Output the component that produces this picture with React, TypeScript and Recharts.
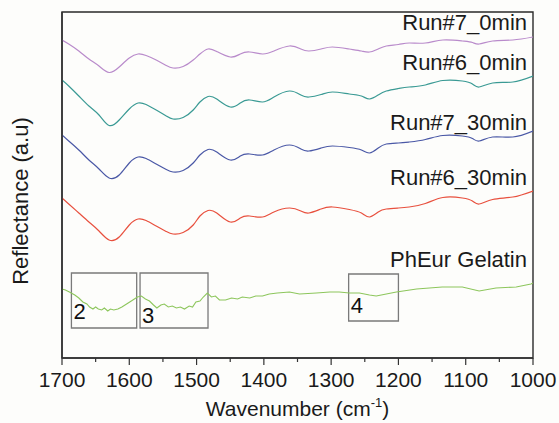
import React from "react";
import { LineChart, Line, XAxis, YAxis, ReferenceArea, ReferenceDot } from "recharts";

// Wavenumber grid (cm^-1)
const wavenumbers = [1700, 1690, 1675, 1660, 1645, 1630, 1615, 1600, 1587, 1575, 1560, 1545, 1535, 1520, 1505, 1495, 1483, 1470, 1450, 1435, 1421, 1402, 1385, 1362, 1345, 1333, 1315, 1298, 1273, 1255, 1243, 1230, 1218, 1200, 1184, 1160, 1134, 1105, 1090, 1080, 1060, 1030, 1000];

// Reflectance (a.u., stacked with offsets)
const run7_0min = [3.18, 3.14, 3.07, 2.99, 2.92, 2.855, 2.91, 3.0, 3.04, 3.025, 2.98, 2.925, 2.9, 2.915, 2.98, 3.04, 3.09, 3.065, 3.01, 3.04, 3.06, 3.04, 3.07, 3.12, 3.09, 3.07, 3.09, 3.11, 3.09, 3.07, 3.06, 3.09, 3.12, 3.135, 3.15, 3.15, 3.18, 3.17, 3.155, 3.14, 3.17, 3.18, 3.21];
const run6_0min = [2.78, 2.72, 2.62, 2.52, 2.43, 2.325, 2.38, 2.49, 2.55, 2.535, 2.48, 2.42, 2.39, 2.405, 2.48, 2.56, 2.615, 2.59, 2.51, 2.55, 2.58, 2.56, 2.61, 2.67, 2.63, 2.61, 2.635, 2.66, 2.64, 2.62, 2.59, 2.63, 2.67, 2.695, 2.71, 2.73, 2.775, 2.77, 2.74, 2.71, 2.75, 2.76, 2.82];
const run7_30min = [2.23, 2.17, 2.08, 1.98, 1.89, 1.8, 1.83, 1.95, 2.01, 1.995, 1.94, 1.885, 1.86, 1.875, 1.95, 2.03, 2.085, 2.06, 1.98, 2.02, 2.04, 2.03, 2.08, 2.13, 2.09, 2.07, 2.1, 2.12, 2.105, 2.08, 2.05, 2.1, 2.14, 2.15, 2.16, 2.185, 2.225, 2.22, 2.195, 2.17, 2.21, 2.21, 2.27];
const run6_30min = [1.6, 1.54, 1.45, 1.36, 1.27, 1.18, 1.21, 1.33, 1.39, 1.375, 1.32, 1.265, 1.24, 1.255, 1.33, 1.42, 1.475, 1.45, 1.36, 1.4, 1.42, 1.41, 1.46, 1.5, 1.47, 1.45, 1.49, 1.51, 1.485, 1.45, 1.41, 1.46, 1.49, 1.5, 1.51, 1.545, 1.605, 1.6, 1.57, 1.54, 1.585, 1.61, 1.67];

// PhEur Gelatin (noisier, its own sampling)
const gelatinWn = [1700, 1695, 1689, 1681, 1675, 1669, 1663, 1659, 1654, 1650, 1646, 1641, 1637, 1632, 1628, 1623, 1617, 1611, 1604, 1597, 1588, 1582, 1576, 1570, 1564, 1559, 1553, 1548, 1542, 1536, 1530, 1524, 1518, 1511, 1506, 1501, 1495, 1490, 1484, 1478, 1472, 1466, 1457, 1448, 1439, 1432, 1421, 1412, 1402, 1392, 1380, 1362, 1347, 1322, 1302, 1288, 1273, 1258, 1243, 1233, 1218, 1203, 1173, 1135, 1105, 1080, 1055, 1025, 1003, 1000];
const gelatinVal = [0.69, 0.68, 0.66, 0.63, 0.6, 0.56, 0.54, 0.51, 0.49, 0.51, 0.49, 0.48, 0.5, 0.47, 0.49, 0.48, 0.49, 0.51, 0.54, 0.57, 0.61, 0.62, 0.59, 0.57, 0.53, 0.5, 0.53, 0.54, 0.51, 0.52, 0.5, 0.51, 0.49, 0.52, 0.51, 0.56, 0.57, 0.61, 0.65, 0.61, 0.62, 0.58, 0.58, 0.6, 0.59, 0.61, 0.6, 0.62, 0.62, 0.64, 0.65, 0.66, 0.64, 0.65, 0.66, 0.66, 0.65, 0.65, 0.63, 0.62, 0.64, 0.66, 0.69, 0.71, 0.71, 0.67, 0.7, 0.71, 0.74, 0.75];

const xTicks = [1700, 1650, 1600, 1550, 1500, 1450, 1400, 1350, 1300, 1250, 1200, 1150, 1100, 1050, 1000];
const seriesNames = ["Run#7_0min", "Run#6_0min", "Run#7_30min", "Run#6_30min", "PhEur Gelatin"];
const seriesColors = ["#b98bcb", "#3a9a94", "#4a58a6", "#e8503e", "#8dc65c"];

// Highlighted regions: [from, to] wavenumber, [low, high] reflectance
const boxNames = ["2", "3", "4"];
const boxX = [[1686, 1589], [1584, 1483], [1274, 1200]];
const boxY = [[0.3, 0.85], [0.3, 0.85], [0.37, 0.84]];

const data = wavenumbers.map((w, i) => ({
  w,
  r70: run7_0min[i],
  r60: run6_0min[i],
  r730: run7_30min[i],
  r630: run6_30min[i],
}));
const gelatinData = gelatinWn.map((w, i) => ({ w, g: gelatinVal[i] }));

const FONT = "Liberation Sans, Arial, sans-serif";

// layout constants
const labelYs = [3.28, 2.88, 2.28, 1.73, 0.91];
const boxLabelOffsets = [9, 5, 8];

const XTick = (props: any) => {
  const { x, y, payload } = props;
  const v = payload.value as number;
  const major = v % 100 === 0;
  return (
    <g>
      <line x1={x} x2={x} y1={y} y2={y + (major ? 7 : 4)} stroke="#333" strokeWidth={1.2} />
      {major && (
        <text x={x} y={y + 29} textAnchor="middle" fontSize={21} fontFamily={FONT} fill="#1a1a1a">
          {v}
        </text>
      )}
    </g>
  );
};

export default function App() {
  const keys = ["r70", "r60", "r730", "r630"];
  return (
    <div style={{ position: "absolute", left: 0, top: 0, width: 559, height: 423, background: "#fdfdfb" }}>
      <LineChart width={559} height={423} data={data} margin={{ top: 12, right: 26, bottom: 0, left: 0 }}>
        <XAxis
          dataKey="w"
          type="number"
          domain={[1000, 1700]}
          reversed
          ticks={xTicks}
          interval={0}
          tick={<XTick />}
          tickLine={false}
          tickSize={0}
          tickMargin={0}
          height={65}
          axisLine={{ stroke: "#333", strokeWidth: 1.5 }}
          allowDataOverflow
          label={{
            content: () => (
              <text x={297.5} y={416} textAnchor="middle" fontSize={21} fontFamily={FONT} fill="#1a1a1a">
                Wavenumber (cm
                <tspan fontSize={13} dy={-9}>-1</tspan>
                <tspan dy={9}>)</tspan>
              </text>
            ),
          }}
        />
        <YAxis
          type="number"
          domain={[0, 3.46]}
          tick={false}
          tickLine={false}
          width={62}
          axisLine={{ stroke: "#333", strokeWidth: 1.5 }}
          label={{
            content: () => (
              <text
                x={28}
                y={201}
                transform="rotate(-90 28 201)"
                textAnchor="middle"
                fontSize={22}
                fontFamily={FONT}
                fill="#1a1a1a"
              >
                Reflectance (a.u)
              </text>
            ),
          }}
        />
        <ReferenceArea
          x1={1700}
          x2={1000}
          y1={0}
          y2={3.46}
          fill="none"
          stroke="#2a2a2a"
          strokeWidth={1.4}
          ifOverflow="visible"
        />
        {boxNames.map((name, i) => (
          <ReferenceArea
            key={name}
            x1={boxX[i][0]}
            x2={boxX[i][1]}
            y1={boxY[i][0]}
            y2={boxY[i][1]}
            fill="none"
            fillOpacity={0}
            stroke="#7a7a7a"
            strokeWidth={1.3}
            ifOverflow="visible"
            label={{
              content: (p: any) => {
                const vb = p.viewBox;
                return (
                  <text
                    x={vb.x + 2}
                    y={vb.y + vb.height - boxLabelOffsets[i]}
                    fontSize={22}
                    fontFamily={FONT}
                    fill="#111"
                  >
                    {name}
                  </text>
                );
              },
            }}
          />
        ))}
        {keys.map((k, i) => (
          <Line
            key={k}
            dataKey={k}
            type="natural"
            stroke={seriesColors[i]}
            strokeWidth={1.2}
            dot={false}
            isAnimationActive={false}
          />
        ))}
        <Line
          data={gelatinData}
          dataKey="g"
          type="linear"
          stroke={seriesColors[4]}
          strokeWidth={1.1}
          dot={false}
          isAnimationActive={false}
        />
        {seriesNames.map((name, i) => (
          <ReferenceDot
            key={name}
            x={1000}
            y={labelYs[i]}
            r={1}
            fill="none"
            stroke="none"
            ifOverflow="visible"
            label={{
              content: (p: any) => {
                const vb = p.viewBox;
                return (
                  <text x={vb.x - 5} y={vb.y + 1} textAnchor="end" fontSize={22} fontFamily={FONT} fill="#1a1a1a">
                    {name}
                  </text>
                );
              },
            }}
          />
        ))}
      </LineChart>
    </div>
  );
}
